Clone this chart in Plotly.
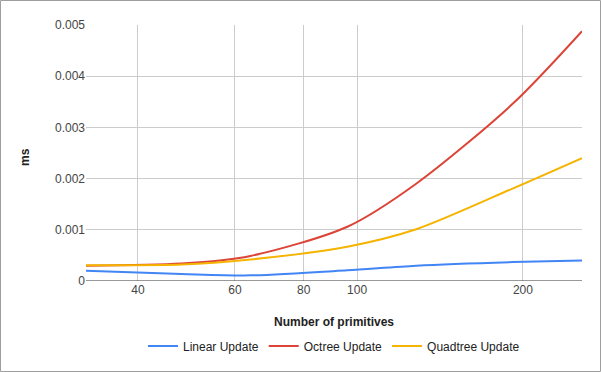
import plotly.graph_objects as go
import math

primitives = [32, 48, 64, 96, 128, 192, 256]
linear_update = [0.0002, 0.000137, 0.00011, 0.00021, 0.0003, 0.00037, 0.0004]
octree_update = [0.0003, 0.00034, 0.00049, 0.00106, 0.0019, 0.00347, 0.00488]
quadtree_update = [0.00031, 0.00032, 0.00042, 0.00067, 0.00101, 0.00181, 0.0024]

x_ticks = [40, 60, 80, 100, 200]
y_ticks = [0, 0.001, 0.002, 0.003, 0.004, 0.005]
y_tick_labels = ["0", "0.001", "0.002", "0.003", "0.004", "0.005"]

series = [
    ("Linear Update", linear_update, "#4285F4"),
    ("Octree Update", octree_update, "#DB4437"),
    ("Quadtree Update", quadtree_update, "#F4B400"),
]

fig = go.Figure()
for name, vals, color in series:
    fig.add_trace(go.Scatter(
        x=primitives, y=vals, name=name, mode="lines",
        line=dict(color=color, width=2, shape="spline", smoothing=0.8),
    ))

L, R, T, B = 86, 19, 25, 91
W, H = 601, 372
pw, ph = W - L - R, H - T - B

fig.update_layout(
    width=W, height=H,
    margin=dict(l=L, r=R, t=T, b=B, pad=0),
    paper_bgcolor="white", plot_bgcolor="white",
    font=dict(family="Liberation Sans, Arial, sans-serif", size=12, color="#444444"),
    xaxis=dict(
        type="log", range=[math.log10(32.2), math.log10(256)],
        tickvals=x_ticks, ticktext=[str(v) for v in x_ticks],
        showgrid=True, gridcolor="#cccccc", gridwidth=1,
        zeroline=False, showline=False, ticks="",
        tickfont=dict(size=12, color="#444444"),
    ),
    yaxis=dict(
        range=[0, 0.005], tickvals=y_ticks, ticktext=y_tick_labels,
        showgrid=True, gridcolor="#cccccc", gridwidth=1,
        zeroline=False, showline=False, ticks="",
        tickfont=dict(size=12, color="#444444"),
    ),
    showlegend=True,
    legend=dict(
        orientation="h", x=0.5, xanchor="center",
        y=(281 - 346) / ph, yanchor="middle",
        font=dict(size=12, color="#222222"),
        bgcolor="rgba(0,0,0,0)",
    ),
    annotations=[
        dict(text="<b>Number of primitives</b>", xref="paper", yref="paper",
             x=0.5, y=(281 - 322) / ph, xanchor="center", yanchor="middle",
             showarrow=False, font=dict(size=12, color="#222222")),
        dict(text="<b>ms</b>", xref="paper", yref="paper",
             x=(25 - L) / pw, y=(281 - 157) / ph, xanchor="center", yanchor="middle",
             textangle=-90, showarrow=False, font=dict(size=12, color="#222222")),
    ],
    shapes=[
        dict(type="line", xref="paper", yref="y", x0=0, x1=1, y0=0, y1=0,
             line=dict(color="#333333", width=1)),
        dict(type="rect", xref="paper", yref="paper",
             x0=(0.5 - L) / pw, x1=(W - 0.5 - L) / pw,
             y0=(281 - (H - 0.5)) / ph, y1=(281 - 0.5) / ph,
             line=dict(color="#9e9e9e", width=1), fillcolor="rgba(0,0,0,0)"),
    ],
)

fig.write_html("out.html", config={"displayModeBar": False},
               post_script="document.body.style.margin='0px';document.body.style.overflow='hidden';")
